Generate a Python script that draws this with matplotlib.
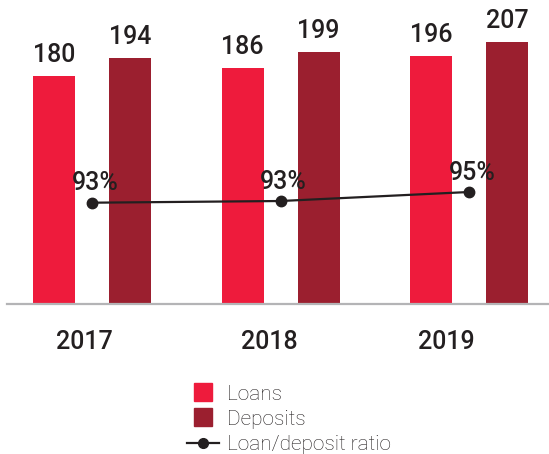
import matplotlib.pyplot as plt
from matplotlib.lines import Line2D
from matplotlib.transforms import blended_transform_factory
import numpy as np

years = ["2017", "2018", "2019"]
loans = [180, 186, 196]
deposits = [194, 199, 207]
ratio = [92.8, 93.1, 94.7]
ratio_labels = ["93%", "93%", "95%"]

RED = "#ee1b3c"
DARK_RED = "#9b1f2f"
INK = "#231f20"

plt.rcParams["font.family"] = ["Roboto", "Liberation Sans", "DejaVu Sans"]

fig = plt.figure(figsize=(5.49, 4.54), dpi=100)
ax = fig.add_axes([0.0128, 0.3293, 0.9872, 0.6707])

x = np.arange(len(years))
off = 0.2016
w = 0.2228

b1 = ax.bar(x - off, loans, w, color=RED)
b2 = ax.bar(x + off, deposits, w, color=DARK_RED)

for bars, vals in ((b1, loans), (b2, deposits)):
	for bar, v in zip(bars, vals):
		ax.annotate(str(v), (bar.get_x() + bar.get_width() / 2, v),
			xytext=(0, 10), textcoords="offset points",
			ha="center", va="baseline", fontsize=18, fontweight="medium",
			color=INK)

ax.set_xlim(-0.451, 2.424)
ax.set_ylim(-1.4, 240)
ax.set_yticks([])
ax.set_xticks([])
for s in ("top", "right", "left"):
	ax.spines[s].set_visible(False)
ax.spines["bottom"].set_color("#b4b4b6")
ax.spines["bottom"].set_linewidth(1.6)

# year labels, slightly left of group centre as in the original
year_shift = [-0.04, -0.06, -0.12]
tr = blended_transform_factory(ax.transData, fig.transFigure)
for xi, yr, sh in zip(x, years, year_shift):
	ax.text(xi + sh, 0.2313, yr, transform=tr, ha="center", va="baseline",
		fontsize=18, fontweight="medium", color=INK)

ax2 = ax.twinx()
ax2.plot(x, ratio, color=INK, lw=1.6, marker="o", markersize=7.5)
for xi, r, lab in zip(x, ratio, ratio_labels):
	ax2.annotate(lab, (xi, r), xytext=(2.2, 8.8), textcoords="offset points",
		ha="center", va="baseline", fontsize=18, fontweight="medium",
		color=INK)
ax2.set_ylim(74.72, 128.8)
ax2.set_yticks([])
ax2.axis("off")

handles = [
	Line2D([], [], ls="none", marker="s", markersize=13, color=RED),
	Line2D([], [], ls="none", marker="s", markersize=13, color=DARK_RED),
	Line2D([], [], color=INK, lw=1.6, marker="o", markersize=7),
]
fig.legend(handles, ["Loans", "Deposits", "Loan/deposit ratio"],
	loc="upper left", bbox_to_anchor=(0.3406, 0.153), frameon=False,
	borderpad=0, borderaxespad=0, handlelength=1.54, handletextpad=0.37,
	labelspacing=0.3, prop={"family": ["Roboto", "Liberation Sans"],
	"weight": "light", "size": 15}, labelcolor=INK)

fig.savefig("out.png", dpi=100)
